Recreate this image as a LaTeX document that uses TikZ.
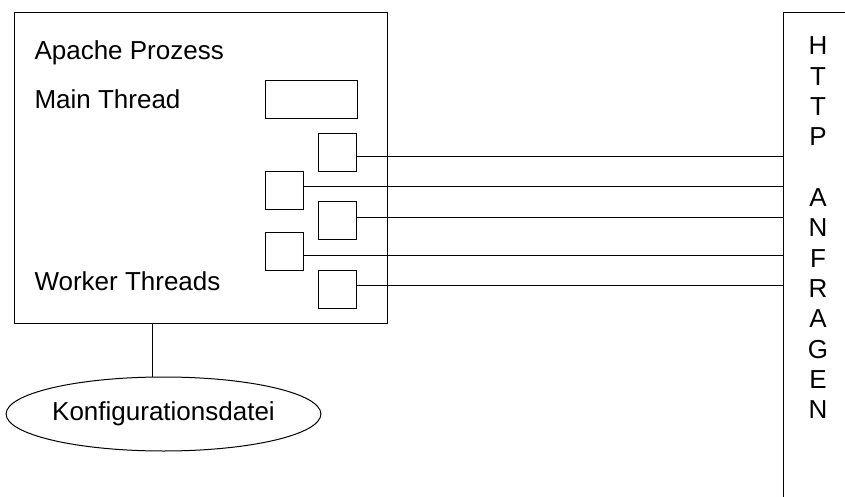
\documentclass[tikz,border=0pt]{standalone}
\usepackage{fontspec}
\setmainfont{Liberation Sans}
\usetikzlibrary{shapes.geometric}
\begin{document}
\begin{tikzpicture}[x=1pt,y=-1pt,
  box/.style={draw,line width=1pt,rectangle,inner sep=0pt,anchor=center},
  wbox/.style={box,minimum width=38pt,minimum height=38pt},
  lbl/.style={anchor=base west,inner sep=0pt,font=\fontsize{26}{30}\selectfont},
  letter/.style={anchor=base,inner sep=0pt,font=\fontsize{26}{30}\selectfont},
  wire/.style={line width=1pt}]
\useasboundingbox (0,0) rectangle (845,497);
\clip (0,0) rectangle (845,497);
% main process box
\node[box,minimum width=373pt,minimum height=310pt] (main) at (200.5,168) {};
\node[lbl] (t1) at (34.3,59.3) {Apache Prozess};
\node[lbl] (t2) at (34.3,108.3) {Main Thread};
\node[lbl] (t3) at (34.3,290) {Worker Threads};
% main thread
\node[box,minimum width=92pt,minimum height=38pt] (mt) at (311,100) {};
% worker threads
\node[wbox] (w1) at (337.5,152.8) {};
\node[wbox] (w2) at (284.5,190.8) {};
\node[wbox] (w3) at (337.5,220.8) {};
\node[wbox] (w4) at (284.5,251.5) {};
\node[wbox] (w5) at (337.5,289.8) {};
% HTTP requests box (cut off by the picture edge)
\node[box,minimum width=122pt,minimum height=560pt] (http) at (844,293) {};
\foreach \k/\t in {0/H,1/T,2/T,3/P,5/A,6/N,7/F,8/R,9/A,10/G,11/E,12/N}
  \node[letter] (l\k) at (818,{55+30.3*\k}) {\t};
% wires
\draw[wire] ([yshift=-3.9pt]w1.east) -- ([yshift=-3.9pt]w1.east -| http.west);
\draw[wire] ([yshift=4.1pt]w2.east) -- ([yshift=4.1pt]w2.east -| http.west);
\draw[wire] ([yshift=3.5pt]w3.east) -- ([yshift=3.5pt]w3.east -| http.west);
\draw[wire] ([yshift=-4.2pt]w4.east) -- ([yshift=-4.2pt]w4.east -| http.west);
\draw[wire] ([yshift=4.1pt]w5.east) -- ([yshift=4.1pt]w5.east -| http.west);
% configuration file
\node[draw,ellipse,line width=1pt,minimum width=313pt,minimum height=74pt,inner sep=0pt,
  font=\fontsize{26}{30}\selectfont] (cfg) at (163.5,414) {Konfigurationsdatei};
\coordinate (c) at (152,323);
\draw[wire] (main.south -| c) -- (cfg.north -| c);
\end{tikzpicture}
\end{document}
